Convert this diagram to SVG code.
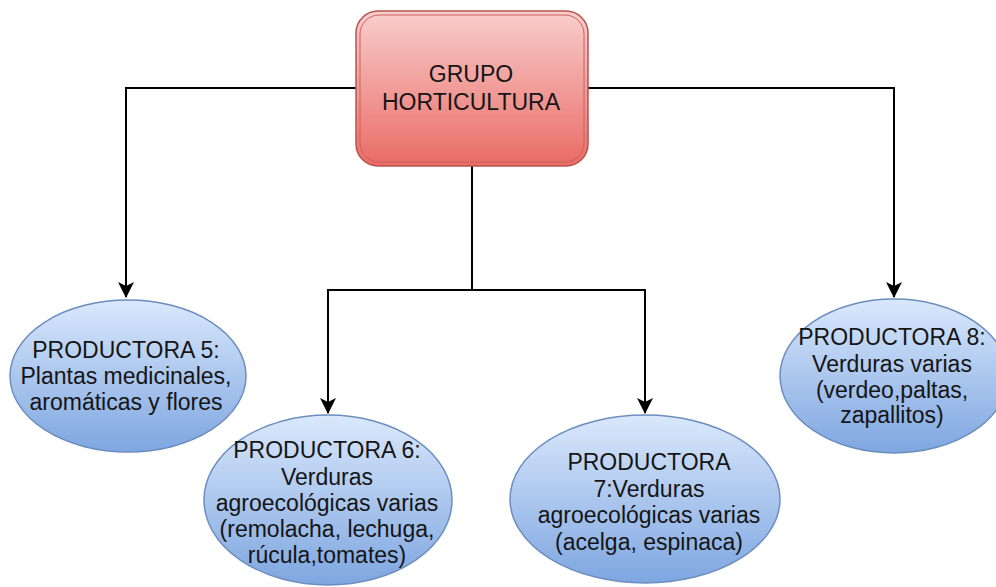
<svg xmlns="http://www.w3.org/2000/svg" width="996" height="587" viewBox="0 0 996 587">
<style>
.t{font-family:"Liberation Sans",Arial,sans-serif;font-size:23px;fill:#151515;text-anchor:middle}
.e{fill:url(#blue);stroke:#6c8ebf;stroke-width:1.5}
.c{fill:none;stroke:#000;stroke-width:2}
</style>
<defs>
<linearGradient id="blue" x1="0" y1="0" x2="0" y2="1">
<stop offset="0" stop-color="#dae8fc"/>
<stop offset="1" stop-color="#7ea6e0"/>
</linearGradient>
<linearGradient id="red" x1="0" y1="0" x2="0" y2="1">
<stop offset="0" stop-color="#f8cecc"/>
<stop offset="1" stop-color="#ea6b66"/>
</linearGradient>
<marker id="arr" viewBox="0 0 16 16" refX="15" refY="8" markerWidth="16" markerHeight="16" markerUnits="userSpaceOnUse" orient="auto">
<path d="M0,0 L16,8 L0,16 L4,8 Z" fill="#000"/>
</marker>
</defs>
<g id="connectors">
<path class="c" d="M356,88 H126 V297" marker-end="url(#arr)"/>
<path class="c" d="M588,88 H894 V297" marker-end="url(#arr)"/>
<path class="c" d="M472,166 V290 H328 V413" marker-end="url(#arr)"/>
<path class="c" d="M472,290 H645 V413" marker-end="url(#arr)"/>
</g>
<g id="grupo">
<rect x="356" y="11" width="232" height="155" rx="22" fill="url(#red)" stroke="#b85450" stroke-width="1.5"/>
<rect x="360" y="15" width="224" height="147" rx="19" fill="none" stroke="#c9605c" stroke-width="1"/>
<text class="t" x="471" y="82">GRUPO</text>
<text class="t" x="471" y="110">HORTICULTURA</text>
</g>
<g id="p5">
<ellipse class="e" cx="128" cy="376" rx="118" ry="76"/>
<text class="t" x="126" y="358">PRODUCTORA 5:</text>
<text class="t" x="126" y="384">Plantas medicinales,</text>
<text class="t" x="126" y="410">aromáticas y flores</text>
</g>
<g id="p6">
<ellipse class="e" cx="328" cy="500" rx="124" ry="85"/>
<text class="t" x="327" y="458">PRODUCTORA 6:</text>
<text class="t" x="327" y="485">Verduras</text>
<text class="t" x="327" y="511">agroecológicas varias</text>
<text class="t" x="327" y="537">(remolacha, lechuga,</text>
<text class="t" x="327" y="563">rúcula,tomates)</text>
</g>
<g id="p7">
<ellipse class="e" cx="645" cy="499" rx="135" ry="84"/>
<text class="t" x="649" y="470">PRODUCTORA</text>
<text class="t" x="649" y="497">7:Verduras</text>
<text class="t" x="649" y="523">agroecológicas varias</text>
<text class="t" x="649" y="550">(acelga, espinaca)</text>
</g>
<g id="p8">
<ellipse class="e" cx="894" cy="376" rx="114" ry="77"/>
<text class="t" x="892" y="345">PRODUCTORA 8:</text>
<text class="t" x="892" y="372">Verduras varias</text>
<text class="t" x="892" y="398">(verdeo,paltas,</text>
<text class="t" x="892" y="423">zapallitos)</text>
</g>
</svg>
